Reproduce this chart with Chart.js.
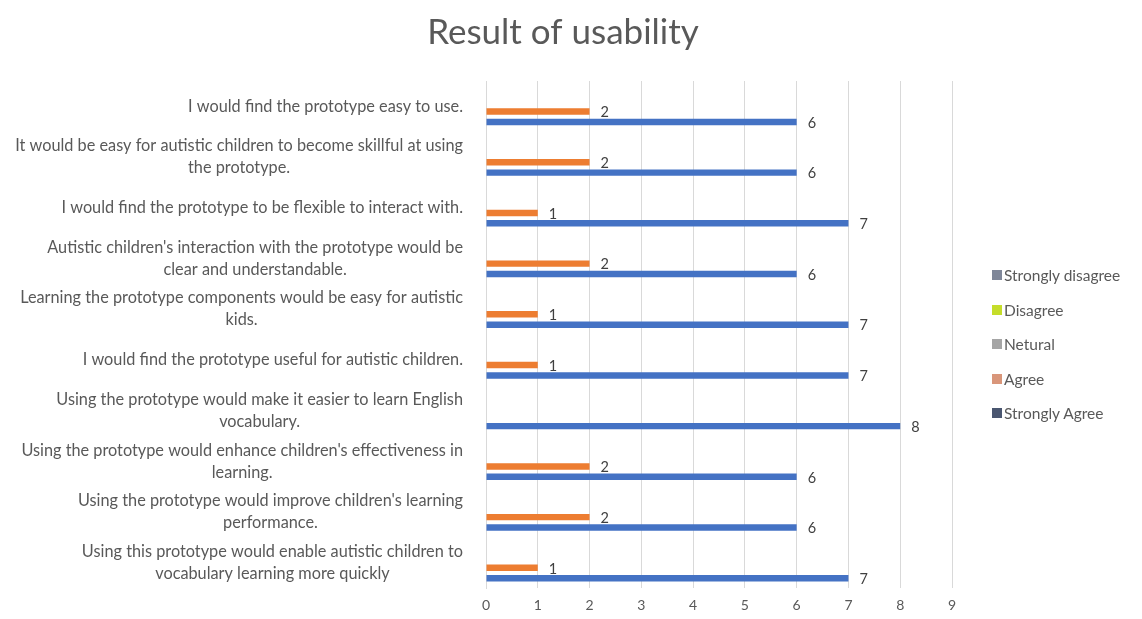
<!DOCTYPE html>
<html>
<head>
<meta charset="utf-8">
<title>Result of usability</title>
<script src="https://cdn.jsdelivr.net/npm/chart.js@4.4.1/dist/chart.umd.min.js"></script>
<style>
  html, body { margin: 0; padding: 0; background: #fff; }
  #wrap { position: relative; width: 1142px; height: 619px; }
  #legend { position: absolute; left: 992px; top: 258px; font-family: Lato, sans-serif; font-size: 15.5px; color: #595959; }
  #legend .item { height: 34.5px; display: flex; align-items: center; white-space: nowrap; }
  #legend .box { display: inline-block; width: 10px; height: 10px; margin-right: 2px; }
</style>
</head>
<body>
<div id="wrap">
  <canvas id="usability" width="1142" height="619"></canvas>
  <div id="legend"></div>
</div>
<script>
// questions (top to bottom)
const questions = [
  'I would find the prototype easy to use.',
  ['It would be easy for autistic children to become skillful at using', 'the prototype.'],
  'I would find the prototype to be flexible to interact with.',
  ["Autistic children's interaction with the prototype would be", 'clear and understandable.'],
  ['Learning the prototype components would be easy for autistic', 'kids.'],
  'I would find the prototype useful for autistic children.',
  ['Using the prototype would make it easier to learn English', 'vocabulary.'],
  ["Using the prototype would enhance children's effectiveness in", 'learning.'],
  ["Using the prototype would improve children's learning", 'performance.'],
  ['Using this prototype would enable autistic children to', 'vocabulary learning more quickly']
];

const chartTitle = 'Result of usability';
const seriesNames = ['Strongly disagree', 'Disagree', 'Netural', 'Agree', 'Strongly Agree'];
const stronglyDisagree = [null, null, null, null, null, null, null, null, null, null];
const disagree = [null, null, null, null, null, null, null, null, null, null];
const netural = [null, null, null, null, null, null, null, null, null, null];
const agree = [2, 2, 1, 2, 1, 1, null, 2, 2, 1];
const stronglyAgree = [6, 6, 7, 6, 7, 7, 8, 6, 6, 7];
const xTicks = [0, 1, 2, 3, 4, 5, 6, 7, 8, 9];

const barColors = ['#8497B0', '#C5DD2A', '#A5A5A5', '#ED7D31', '#4472C4'];
const legendColors = ['#7F8799', '#C5DD2A', '#A5A5A5', '#D9967A', '#4A5670'];

Chart.defaults.font.family = 'Lato, sans-serif';

// title over whole canvas, y labels (centred lines like excel), value labels at bar ends
const labelPlugin = {
  id: 'usabilityLabels',
  afterDatasetsDraw(chart) {
    const ctx = chart.ctx;
    const yScale = chart.scales.y;
    ctx.save();
    ctx.textBaseline = 'middle';
    ctx.textAlign = 'center';

    ctx.font = '35px Lato, sans-serif';
    ctx.fillStyle = '#595959';
    ctx.fillText(chartTitle, 563, 33);

    ctx.font = '16.3px Lato, sans-serif';
    questions.forEach((q, i) => {
      const lines = Array.isArray(q) ? q : [q];
      const w = Math.max(...lines.map(l => ctx.measureText(l).width));
      const cx = yScale.right - 23 - w / 2;
      const cy = yScale.getPixelForTick(i);
      lines.forEach((l, j) => ctx.fillText(l, cx, cy + (j - (lines.length - 1) / 2) * 22));
    });

    ctx.textAlign = 'left';
    ctx.font = '14.5px Lato, sans-serif';
    ctx.fillStyle = '#404040';
    chart.data.datasets.forEach((ds, d) => {
      chart.getDatasetMeta(d).data.forEach((bar, i) => {
        const v = ds.data[i];
        if (v == null) return;
        ctx.fillText(v, bar.x + 11, bar.y + 1);
      });
    });
    ctx.restore();
  }
};

const allSeries = [stronglyDisagree, disagree, netural, agree, stronglyAgree];

const chart = new Chart(document.getElementById('usability'), {
  type: 'bar',
  data: {
    labels: questions,
    datasets: allSeries.map((data, i) => ({
      label: seriesNames[i],
      data: data,
      backgroundColor: barColors[i],
      borderWidth: 0,
      grouped: i !== 2,
      categoryPercentage: 0.82,
      barPercentage: 0.62
    }))
  },
  options: {
    indexAxis: 'y',
    responsive: false,
    animation: false,
    layout: { padding: { left: 0, right: 190, top: 81, bottom: 0 } },
    plugins: {
      legend: { display: false },
      tooltip: { enabled: false },
      title: { display: false }
    },
    scales: {
      x: {
        min: xTicks[0],
        max: xTicks[xTicks.length - 1],
        ticks: { stepSize: 1, color: '#595959', font: { size: 14 }, padding: 9 },
        grid: { color: '#D9D9D9', drawTicks: false },
        border: { display: false },
        afterFit(scale) { scale.height = 31; }
      },
      y: {
        ticks: { display: false },
        grid: { display: false },
        border: { color: '#D9D9D9' },
        afterFit(scale) { scale.width = 486; }
      }
    }
  },
  plugins: [labelPlugin]
});

// legend
const legendEl = document.getElementById('legend');
seriesNames.forEach((name, i) => {
  const row = document.createElement('div');
  row.className = 'item';
  const box = document.createElement('span');
  box.className = 'box';
  box.style.background = legendColors[i];
  row.appendChild(box);
  row.appendChild(document.createTextNode(name));
  legendEl.appendChild(row);
});
</script>
</body>
</html>
